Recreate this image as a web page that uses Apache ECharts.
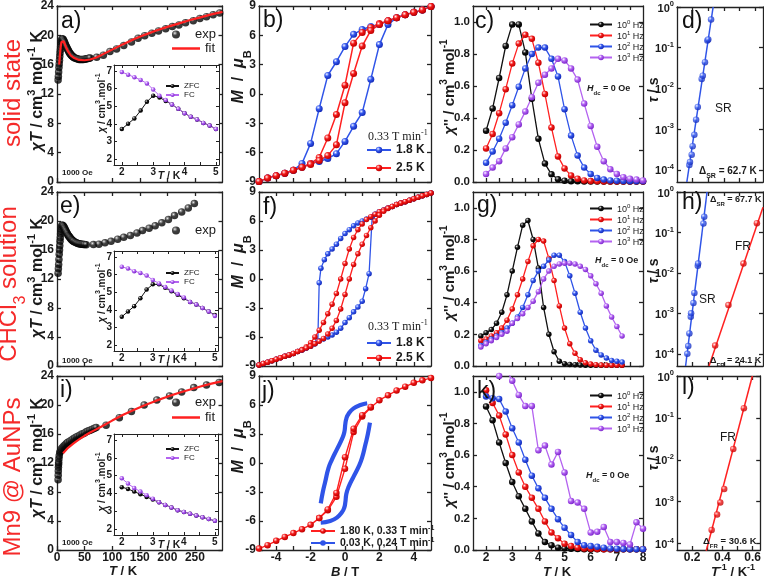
<!DOCTYPE html>
<html><head><meta charset="utf-8">
<script src="https://cdn.jsdelivr.net/npm/echarts@6/dist/echarts.min.js"></script>
<style>html,body{margin:0;padding:0;background:#fff}#c{width:764px;height:580px}</style>
</head><body><div id="c"></div>
<script>
// ---------------- DATA ----------------
// a) solid state chiT
const aT = [2,2.5,3,3.5,4,4.5,5,5.5,6,6.5,7,7.5,8,9,10,11,12,13,14,15,16,17,18,19,20,21,22,23,24,25,26,27,28,29,30,32,34,36,38,40,42,44,46,48,50,52,54,56,58,60,72,84,96,108,121,135,147,159,172,184,197,209,221,233,247,259,271,283,295];
const aChiT = [13.9,14.4,15.0,15.6,16.1,16.6,17.1,17.6,18.0,18.4,18.8,19.1,19.3,
  19.5,19.5,19.45,19.3,19.15,19.0,18.8,18.6,18.45,18.3,18.15,18.0,17.85,17.7,17.6,17.5,17.4,17.3,17.22,17.15,17.08,17.0,
  16.92,16.86,16.8,16.76,16.72,16.7,16.7,16.7,16.72,16.74,16.77,16.8,16.84,16.88,16.92,
  17.0,17.3,17.8,18.15,18.6,19.1,19.6,19.95,20.3,20.6,20.9,21.2,21.4,21.7,22.0,22.3,22.55,22.8,23.05];
const aFitT = [4,5,6,7,8,9,10,12,14,16,20,25,30,40,50,60,70,80,100,120,140,160,180,200,220,240,260,280,300];
const aFitChiT = [16.0,17.0,17.9,18.6,19.1,19.35,19.4,19.2,18.85,18.45,17.8,17.25,16.95,16.65,16.6,16.7,16.95,17.3,18.05,18.8,19.5,20.1,20.65,21.15,21.6,22.05,22.45,22.85,23.2];
// e) CHCl3 solution chiT
const eT = [2,2.5,3,3.5,4,4.5,5,5.5,6,6.5,7,7.5,8,9,10,11,12,13,14,15,16,17,18,19,20,21,22,23,24,25,26,27,28,29,30,32,34,36,38,40,42,44,46,48,50,53,66,76,87,98,110,121,133,145,155,167,178,190,202,213,226,238,249];
const eChiT = [12.8,13.4,14.0,14.7,15.4,16.0,16.6,17.2,17.7,18.2,18.6,18.9,19.2,
  19.4,19.4,19.35,19.25,19.1,18.95,18.8,18.65,18.5,18.35,18.2,18.05,17.95,17.85,17.75,17.65,17.55,17.45,17.4,17.32,17.25,17.2,
  17.1,17.02,16.95,16.9,16.86,16.83,16.8,16.78,16.76,16.75,16.74,
  16.75,16.8,17.0,17.2,17.5,17.75,18.0,18.35,18.7,19.0,19.35,19.75,20.2,20.75,21.25,21.8,22.4];
// i) Mn9@AuNPs chiT
const iT = [2,2.2,2.4,2.6,2.8,3,3.5,4,5,6,7,8,10,12,14,16,18,20,23,26,29,32,35,38,41,44,47,50,53,56,59,62,65,68,71,89,113,135,158,181,204,226,248,271,294];
const iChiT = [9.7,10.3,10.9,11.4,11.8,12.1,12.6,13.0,13.4,13.6,13.8,13.95,14.15,14.3,14.45,14.6,14.75,14.85,
  15.0,15.15,15.3,15.45,15.6,15.7,15.8,15.95,16.05,16.15,16.3,16.4,16.5,16.6,16.7,16.8,16.9,
  17.2,18.25,19.1,20.0,20.7,21.25,21.8,22.4,22.75,23.1];
const iFitT = [11,20,30,40,50,60,70,80,100,120,140,160,180,200,220,240,260,280,300];
const iFitChiT = [13.35,14.1,14.7,15.25,15.75,16.2,16.6,17.0,17.85,18.65,19.35,20.0,20.6,21.15,21.65,22.1,22.55,22.95,23.3];
// insets: ZFC / FC
const insT = [2,2.2,2.4,2.6,2.8,3.0,3.2,3.4,3.6,3.8,4.0,4.2,4.4,4.6,4.8,5.0];
const aZFC = [3.7,4.0,4.3,4.75,5.25,5.6,5.5,5.3,5.1,4.85,4.6,4.4,4.25,4.05,3.9,3.7];
const aFC  = [6.95,6.8,6.65,6.5,6.3,5.95,5.6,5.35,5.1,4.85,4.6,4.4,4.25,4.05,3.9,3.7];
const eZFC = [3.6,3.9,4.2,4.65,5.15,5.45,5.45,5.25,5.05,4.85,4.65,4.45,4.3,4.1,3.9,3.7];
const eFC  = [6.45,6.35,6.2,6.1,5.95,5.7,5.5,5.3,5.1,4.9,4.7,4.45,4.3,4.1,3.9,3.65];
const iZFC = [4.35,4.25,4.1,3.95,3.8,3.65,3.5,3.35,3.2,3.05,2.95,2.85,2.75,2.65,2.55,2.45];
const iFC  = [4.85,4.55,4.3,4.1,3.9,3.7,3.5,3.35,3.2,3.05,2.95,2.85,2.75,2.65,2.55,2.45];
// b) hysteresis solid state
const bDownB = [5,4.5,4,3.5,3,2.5,2,1.5,1,0.5,0,-0.5,-1,-1.5,-2,-2.5,-3,-3.5,-4,-4.5,-5];
const bUpB = [-5,-4.5,-4,-3.5,-3,-2.5,-2,-1.5,-1,-0.5,0,0.5,1,1.5,2,2.5,3,3.5,4,4.5,5];
const b18Down = [8.95,8.6,8.35,8.1,7.8,7.5,7.1,6.9,6.6,6.1,4.85,3.3,1.9,-1.5,-5.05,-7.1,-7.8,-8.1,-8.35,-8.6,-8.95];
const b18Up = [-8.95,-8.6,-8.35,-8.1,-7.8,-7.5,-7.1,-6.9,-6.6,-6.1,-4.85,-3.3,-1.9,1.5,5.05,7.1,7.8,8.1,8.35,8.6,8.95];
const b25Down = [8.95,8.6,8.35,8.1,7.8,7.5,7.2,6.8,6.3,5.2,0.9,-2.1,-4.5,-6.5,-7.1,-7.5,-7.8,-8.1,-8.35,-8.6,-8.95];
const b25Up = [-8.95,-8.6,-8.35,-8.1,-7.8,-7.5,-7.2,-6.8,-6.3,-5.2,-0.9,2.1,4.9,6.5,7.1,7.5,7.8,8.1,8.35,8.6,8.95];
// f) hysteresis CHCl3 solution
const fBlueDownB = [5,4.75,4.5,4.25,4,3.75,3.5,3.25,3,2.75,2.5,2.25,2,1.75,1.5,1.25,1,0.75,0.5,0.25,0,-0.25,-0.5,-0.75,-1,-1.2,-1.4,-1.5,-1.58,-1.75,-2,-2.25,-2.5,-2.75,-3,-3.25,-3.5,-3.75,-4,-4.25,-4.5,-4.75,-5];
const fBlueDownM = [8.9,8.75,8.6,8.45,8.3,8.15,8.0,7.85,7.7,7.5,7.35,7.15,6.95,6.7,6.4,6.2,6.0,5.8,5.5,5.1,4.7,4.2,3.6,3.1,2.6,2.0,1.1,-0.4,-6.4,-6.7,-6.95,-7.15,-7.35,-7.5,-7.7,-7.85,-8.0,-8.15,-8.3,-8.45,-8.6,-8.75,-8.9];
const fBlueUpB = [-5,-4.75,-4.5,-4.25,-4,-3.75,-3.5,-3.25,-3,-2.75,-2.5,-2.25,-2,-1.75,-1.5,-1.25,-1,-0.75,-0.5,-0.25,0,0.25,0.5,0.75,1,1.2,1.4,1.58,1.75,2,2.25,2.5,2.75,3,3.25,3.5,3.75,4,4.25,4.5,4.75,5];
const fBlueUpM = [-8.9,-8.75,-8.6,-8.45,-8.3,-8.15,-8.0,-7.85,-7.7,-7.5,-7.35,-7.15,-6.95,-6.7,-6.4,-6.2,-6.0,-5.8,-5.5,-5.1,-4.5,-4.0,-3.4,-2.9,-2.3,-1.0,0.55,6.4,6.7,6.95,7.15,7.35,7.5,7.7,7.85,8.0,8.15,8.3,8.45,8.6,8.75,8.9];
const fRedDownB = [5,4.75,4.5,4.25,4,3.75,3.5,3.25,3,2.75,2.5,2.25,2,1.75,1.5,1.25,1,0.75,0.5,0.25,0,-0.25,-0.5,-0.75,-1,-1.25,-1.5,-1.75,-2,-2.25,-2.5,-2.75,-3,-3.25,-3.5,-3.75,-4,-4.25,-4.5,-4.75,-5];
const fRedDownM = [8.9,8.75,8.6,8.45,8.3,8.15,8.0,7.85,7.7,7.5,7.35,7.15,6.95,6.7,6.45,6.15,5.7,5.1,4.3,3.1,1.6,0.0,-1.5,-2.6,-3.6,-4.5,-5.3,-6.0,-6.6,-7.0,-7.3,-7.5,-7.7,-7.85,-8.0,-8.15,-8.3,-8.45,-8.6,-8.75,-8.9];
const fRedUpB = [-5,-4.75,-4.5,-4.25,-4,-3.75,-3.5,-3.25,-3,-2.75,-2.5,-2.25,-2,-1.75,-1.5,-1.25,-1,-0.75,-0.5,-0.25,0,0.25,0.5,0.75,1,1.25,1.5,1.75,2,2.25,2.5,2.75,3,3.25,3.5,3.75,4,4.25,4.5,4.75,5];
const fRedUpM = [-8.9,-8.75,-8.6,-8.45,-8.3,-8.15,-8.0,-7.85,-7.7,-7.5,-7.35,-7.15,-6.95,-6.7,-6.45,-6.15,-5.7,-5.1,-4.3,-3.1,-1.6,0.0,1.5,2.6,3.6,4.5,5.3,6.0,6.6,7.0,7.3,7.5,7.7,7.85,8.0,8.15,8.3,8.45,8.6,8.75,8.9];
// j) hysteresis Mn9@AuNPs
const jUpB = [-5,-4.5,-4,-3.5,-3,-2.5,-2,-1.5,-1,-0.5,0,0.5,1,1.5,2,2.5,3,3.5,4,4.5,5];
const jUpM = [-8.85,-8.5,-8.05,-7.65,-7.25,-6.85,-6.4,-5.7,-4.9,-3.5,-0.6,3.2,4.8,5.75,6.5,7.0,7.5,7.9,8.3,8.55,8.8];
const jDownB = [1.5,1,0.5,0,-0.5,-1,-1.5];
const jDownM = [5.8,4.95,3.55,0.6,-3.1,-4.8,-5.7];
const jBlue1B = [1.29,0.9,0.5,0.21,0.08,0.02,-0.04,-0.18,-0.47,-0.76,-0.96,-1.15,-1.29,-1.41];
const jBlue1M = [6.18,6.0,5.65,5.1,4.6,4.06,3.18,2.47,1.41,0.35,-0.53,-1.94,-3.0,-4.17];
const jBlue2B = [-1.41,-0.86,-0.47,-0.18,-0.04,0.02,0.08,0.21,0.5,0.8,0.99,1.19,1.33,1.45];
const jBlue2M = [-6.18,-6.0,-5.65,-5.1,-4.6,-4.06,-3.18,-2.47,-1.41,-0.35,0.53,1.94,3.0,4.17];
// c) chi'' solid state (10^0..10^3 Hz)
const cT = [2,2.25,2.5,2.75,3,3.25,3.5,3.75,4,4.25,4.5,4.75,5,5.25,5.5,5.75,6,6.25,6.5,6.75,7,7.25,7.5,7.75,8];
const c0 = [0.32,0.46,0.65,0.85,0.985,0.985,0.81,0.52,0.27,0.115,0.048,0.017,0.008,0.005,0.004,0.003,0.003,0.003,0.003,0.003,0.003,0.003,0.003,0.003,0.003];
const c1 = [0.21,0.30,0.43,0.58,0.74,0.865,0.92,0.895,0.745,0.55,0.34,0.16,0.085,0.04,0.02,0.01,0.006,0.004,0.003,0.003,0.003,0.003,0.003,0.003,0.003];
const c2 = [0.12,0.19,0.27,0.37,0.48,0.595,0.71,0.80,0.84,0.84,0.77,0.66,0.455,0.29,0.165,0.09,0.05,0.025,0.015,0.01,0.008,0.006,0.005,0.005,0.005];
const c3 = [0.05,0.09,0.13,0.21,0.28,0.36,0.44,0.53,0.62,0.67,0.71,0.77,0.76,0.71,0.64,0.49,0.35,0.22,0.13,0.08,0.05,0.03,0.02,0.015,0.01];
// g) chi'' CHCl3 solution
const gT = [1.8,2.0,2.2,2.4,2.6,2.8,3.0,3.2,3.4,3.6,3.8,4.0,4.2,4.4,4.6,4.8,5.0,5.2,5.4,5.6,5.8,6.0,6.2,6.4,6.6,6.8,7.0,7.2];
const g0 = [0.19,0.21,0.23,0.27,0.34,0.45,0.60,0.75,0.89,0.92,0.80,0.62,0.37,0.20,0.09,0.03,0.015,0.01,0.008,0.006,0.005,0.005,0.005,0.005,0.005,0.005,0.005,0.005];
const g1 = [0.16,0.17,0.19,0.21,0.24,0.29,0.36,0.45,0.55,0.66,0.76,0.80,0.79,0.68,0.54,0.38,0.24,0.14,0.08,0.04,0.02,0.012,0.008,0.006,0.005,0.005,0.005,0.005];
const g2 = [0.13,0.15,0.17,0.19,0.21,0.24,0.27,0.31,0.37,0.45,0.54,0.60,0.63,0.67,0.70,0.70,0.66,0.57,0.46,0.34,0.24,0.16,0.10,0.07,0.05,0.035,0.03,0.025];
const g3 = [0.12,0.14,0.16,0.18,0.20,0.22,0.27,0.30,0.33,0.37,0.41,0.47,0.55,0.60,0.63,0.645,0.65,0.65,0.645,0.63,0.61,0.57,0.52,0.46,0.38,0.31,0.25,0.19];
// k) chi'' Mn9@AuNPs
const kT = [2,2.25,2.5,2.75,3,3.25,3.5,3.75,4,4.25,4.5,4.75,5,5.25,5.5,5.75,6,6.25,6.5,6.75,7,7.25,7.5,7.75,8];
const k0 = [0.907,0.82,0.68,0.55,0.43,0.34,0.26,0.18,0.105,0.05,0.03,0.015,0.01,0.008,0.006,0.005,0.005,0.005,0.005,0.005,0.005,0.005,0.005,0.005,0.005];
const k1 = [1.01,0.93,0.85,0.73,0.60,0.49,0.40,0.33,0.26,0.18,0.11,0.075,0.04,0.025,0.015,0.01,0.008,0.006,0.005,0.005,0.005,0.005,0.005,0.005,0.005];
const k2 = [0.97,0.96,0.955,0.875,0.77,0.68,0.57,0.47,0.39,0.33,0.26,0.195,0.14,0.095,0.05,0.03,0.025,0.02,0.015,0.01,0.008,0.006,0.005,0.005,0.005];
const k3 = [1.3,1.2,1.1,1.15,1.07,0.98,0.91,0.91,0.63,0.66,0.54,0.62,0.49,0.31,0.30,0.26,0.11,0.115,0.145,0.05,0.05,0.045,0.035,0.175,0.135];
// d) Arrhenius solid state (SR)
const dX = [0.179,0.183,0.194,0.2,0.211,0.222,0.233,0.258,0.265,0.279,0.294,0.3,0.318];
const dTau = [1.3e-4,1.55e-4,2.35e-4,3.8e-4,7.2e-4,1.7e-3,3.5e-3,1.7e-2,2.05e-2,4.4e-2,0.15,0.16,0.49];
const dFitX = [0.163,0.331];
const dFitTau = [5e-5,1.0];
// h) Arrhenius CHCl3 (SR + FR)
const hSRX = [0.166,0.172,0.179,0.188,0.19,0.205,0.211,0.233,0.235,0.269,0.274];
const hSRTau = [1.0e-4,1.55e-4,3.2e-4,8.3e-4,1.0e-3,1.8e-3,3.2e-3,1.5e-2,1.7e-2,0.166,0.245];
const hSRFitX = [0.155,0.292];
const hSRFitTau = [5e-5,1.0];
const hFRX = [0.344,0.429,0.525,0.611];
const hFRTau = [1.6e-4,1.6e-3,1.7e-2,0.17];
const hFRFitX = [0.305,0.65];
const hFRFitTau = [5e-5,0.42];
// l) Arrhenius Mn9@AuNPs (FR)
const lX = [0.329,0.365,0.386,0.412,0.472,0.542];
const lTau = [2.1e-4,4.9e-4,9.5e-4,2.0e-3,1.8e-2,0.17];
const lFitX = [0.284,0.598];
const lFitTau = [5e-5,1.0];
// tick values / labels
const tempTicks = [0,50,100,150,200,250];
const chiTTicks = [0,4,8,12,16,20,24];
const insXLabels = [2,3,4,5];
const insYLabels = [2,3,4,5,6,7];
const fieldTicks = [-4,-3,-2,-1,0,1,2,3,4];
const fieldLabels = [-4,-2,0,2,4];
const acTicks = [2,2.5,3,3.5,4,4.5,5,5.5,6,6.5,7,7.5];
const acLabels = [2,3,4,5,6,7,8];
const chiYLabels = [0,0.2,0.4,0.6,0.8,1.0];
const invTTicks = [0.2,0.3,0.4,0.5,0.6];
const invTLabels = [0.2,0.4,0.6];
const tauLabels = [1e-4,1e-3,1e-2,1e-1,1];

// ---------------- STYLE ----------------
const F = '"Liberation Sans", Arial, Helvetica, sans-serif';
const FSERIF = '"Liberation Serif", "Times New Roman", serif';
const INK = '#1a1a1a';
const COL = {k:'#111111', r:'#ff2020', b:'#2f54e8', v:'#b463f0'};
function sph(c0,c1,c2){return {type:'radial',x:0.36,y:0.33,r:0.68,colorStops:[{offset:0,color:'#ffffff'},{offset:0.16,color:c0},{offset:0.45,color:c1},{offset:1,color:c2}]};}
const SPH = {k:sph('#8a8a8a','#101010','#000000'), r:sph('#ff9a9a','#f01818','#c00000'), b:sph('#a6b8ff','#3356ea','#1229b8'), v:sph('#e0c0ff','#b060f0','#7d28cc')};

function rs(fs,o){const s=Object.assign({fontSize:fs,fontFamily:F,fontWeight:'bold',color:INK},o||{});s.fill=s.color;return s;}
function supSet(fs,o){const L=Math.round(fs*1.2);o=o||{};return {
  n:rs(fs,Object.assign({lineHeight:L,verticalAlign:'bottom'},o)),
  i:rs(fs,Object.assign({lineHeight:L,verticalAlign:'bottom',fontStyle:'italic'},o)),
  s:rs(Math.round(fs*0.66),Object.assign({lineHeight:L,verticalAlign:'top'},o))};}
function subSet(fs,o){const L=Math.round(fs*1.35);o=o||{};return {
  n:rs(fs,Object.assign({lineHeight:L,verticalAlign:'top'},o)),
  i:rs(fs,Object.assign({lineHeight:L,verticalAlign:'top',fontStyle:'italic'},o)),
  b:rs(Math.round(fs*0.66),Object.assign({lineHeight:L,verticalAlign:'bottom'},o))};}

const grids=[], xAxis=[], yAxis=[], series=[], legend=[], graphic=[];

function mkAxis(gi,pos,c,main){
  const lw=c.lw||1.3;
  const ax={
    type:c.type||'value', gridIndex:gi, position:pos, min:c.min, max:c.max,
    axisLine:{show:true,onZero:false,lineStyle:{color:'#222',width:lw}},
    axisTick:{show:true,inside:true,length:c.tl||4,lineStyle:{color:'#222',width:lw}},
    minorTick:{show:false}, splitLine:{show:false},
    axisLabel:{show:!!(main && c.labels), fontFamily:F, fontWeight:'bold', fontSize:c.fs||12, color:INK, margin:c.margin||3, hideOverlap:false}
  };
  if(c.type==='log') ax.logBase=10;
  if(c.interval!==undefined) ax.interval=c.interval;
  if(c.ticks) ax.axisTick.customValues=c.ticks;
  if(Array.isArray(c.labels)) ax.axisLabel.customValues=c.labels;
  if(c.fmt) ax.axisLabel.formatter=c.fmt;
  if(c.rich) ax.axisLabel.rich=c.rich;
  if(c.z!==undefined) ax.z=c.z;
  return ax;
}
function panel(r,xc,yc,g){
  const gi=grids.length;
  grids.push(Object.assign({left:r[0],top:r[1],width:r[2],height:r[3],containLabel:false},g||{}));
  const xi=xAxis.length, yi=yAxis.length;
  xAxis.push(mkAxis(gi,'bottom',xc,true)); xAxis.push(mkAxis(gi,'top',xc,false));
  yAxis.push(mkAxis(gi,'left',yc,true)); yAxis.push(mkAxis(gi,'right',yc,false));
  return {xi,yi};
}
function pts(xs,ys){return xs.map((x,i)=>[x,ys[i]]);}
function lineS(name,p,xs,ys,c,o){o=o||{};
  return {type:'line',name,xAxisIndex:p.xi,yAxisIndex:p.yi,data:pts(xs,ys),
    symbol:o.noSym?'none':'circle',symbolSize:o.ss||6.5,showSymbol:!o.noSym,smooth:!!o.smooth,
    lineStyle:{color:COL[c],width:o.lw||1.4},itemStyle:{color:o.noSym?COL[c]:SPH[c]},
    emphasis:{disabled:true},silent:true,clip:true,z:o.z||2};}
function scatS(name,p,xs,ys,c,o){o=o||{};
  return {type:'scatter',name,xAxisIndex:p.xi,yAxisIndex:p.yi,data:pts(xs,ys),symbol:'circle',symbolSize:o.ss||7.5,
    itemStyle:{color:SPH[c]},emphasis:{disabled:true},silent:true,clip:true,z:o.z||2};}
function txt(x,y,text,o){o=o||{};
  graphic.push({type:'text',x,y,rotation:o.rot||0,z:100,silent:true,style:{
    text, fill:o.color||INK, fontSize:o.fs||12, fontFamily:o.ff||F, fontWeight:o.fw||'normal',
    align:o.align||'left', verticalAlign:'middle', rich:o.rich}});}
function logFmt(v){const e=Math.round(Math.log10(v));return '{n|10}{s|'+(e<0?'-'+(-e):e)+'}';}

// ---------------- LAYOUT ----------------
const C1=[57,165.5], C2=[259,172], C3=[473,170], C4=[677,86];
const R1=[6,176], R2=[192,174], R3=[376,174];
function rect(c,r){return [c[0],r[0],c[1],r[1]];}
const rows=[R1,R2,R3];

// column 1: chiT
const chiTData=[[aT,aChiT,aFitT,aFitChiT],[eT,eChiT,null,null],[iT,iChiT,iFitT,iFitChiT]];
const insData=[[aZFC,aFC],[eZFC,eFC],[iZFC,iFC]];
const insRects=[[114,65,105,100],[114,251,104,100],[114,434,104,101]];
for(let r=0;r<3;r++){
  const p=panel(rect(C1,rows[r]),{min:0,max:300,ticks:tempTicks,labels:r===2?tempTicks:false,margin:2},{min:0,max:24,ticks:chiTTicks,labels:chiTTicks});
  const d=chiTData[r];
  series.push(scatS('exp',p,d[0],d[1],'k'));
  if(d[2]) series.push(lineS('fit',p,d[2],d[3],'r',{noSym:true,lw:2.2,z:3}));
  const q=panel(insRects[r],{min:1.75,max:5.1,ticks:[2,2.5,3,3.5,4,4.5,5],labels:insXLabels,fs:10,margin:2,tl:3,lw:1,z:4},
    {min:1.65,max:7.35,ticks:insYLabels,labels:insYLabels,fs:10,margin:2,tl:3,lw:1,z:4},{show:true,backgroundColor:'#ffffff',borderWidth:0,z:3});
  series.push(lineS('ZFC',q,insT,insData[r][0],'k',{ss:4.5,lw:1,z:5}));
  series.push(lineS('FC',q,insT,insData[r][1],'v',{ss:4.5,lw:1,z:5}));
}
// column 2: M vs B
{
  const p=panel(rect(C2,R1),{min:-5,max:5,ticks:fieldTicks,labels:false},{min:-9,max:9,interval:3,labels:true});
  series.push(lineS('1.8 K',p,bDownB.concat(bUpB),b18Down.concat(b18Up),'b',{ss:7,lw:1.5}));
  series.push(lineS('2.5 K',p,bDownB.concat(bUpB),b25Down.concat(b25Up),'r',{ss:7,lw:1.5}));
  const q=panel(rect(C2,R2),{min:-5,max:5,ticks:fieldTicks,labels:false},{min:-9,max:9,interval:3,labels:true});
  series.push(lineS('1.8 K',q,fBlueDownB.concat(fBlueUpB),fBlueDownM.concat(fBlueUpM),'b',{ss:5.5,lw:1.3}));
  series.push(lineS('2.5 K',q,fRedDownB.concat(fRedUpB),fRedDownM.concat(fRedUpM),'r',{ss:5.5,lw:1.3}));
  const s=panel(rect(C2,R3),{min:-5,max:5,ticks:fieldTicks,labels:fieldLabels,margin:2},{min:-9,max:9,interval:3,labels:true});
  series.push(lineS('jb',s,jBlue1B,jBlue1M,'b',{noSym:true,lw:4.2,smooth:true}));
  series.push(lineS('jb',s,jBlue2B,jBlue2M,'b',{noSym:true,lw:4.2,smooth:true}));
  series.push(lineS('jr',s,jUpB,jUpM,'r',{ss:6.5,lw:1.4,z:3}));
  series.push(lineS('jr',s,jDownB,jDownM,'r',{ss:6.5,lw:1.4,z:3}));
}
// column 3: chi''
const acData=[[cT,[c0,c1,c2,c3],6.5],[gT,[g0,g1,g2,g3],5.5],[kT,[k0,k1,k2,k3],6.5]];
for(let r=0;r<3;r++){
  const p=panel(rect(C3,rows[r]),{min:1.5,max:8,ticks:acTicks,labels:r===2?acLabels:false,margin:2},
    {min:0,max:1.1,ticks:chiYLabels,labels:chiYLabels,fmt:v=>v.toFixed(1),fs:11.5});
  const d=acData[r];
  ['k','r','b','v'].forEach((c,i)=>series.push(lineS('f'+i,p,d[0],d[1][i],c,{ss:d[2],lw:1.3})));
}
// column 4: tau vs 1/T
const tauRich={n:rs(11,{lineHeight:14,verticalAlign:'bottom'}),s:rs(7.5,{lineHeight:14,verticalAlign:'top'})};
function tauPanel(r,ymin,lab){
  return panel(rect(C4,r),{min:0.1,max:0.65,ticks:invTTicks,labels:lab?invTLabels:false,fmt:v=>v.toFixed(1),margin:2},
    {type:'log',min:ymin,max:1,ticks:tauLabels,labels:tauLabels,fmt:logFmt,rich:tauRich,margin:3});
}
{
  const p=tauPanel(R1,5e-5,false);
  series.push(lineS('SRd',p,dFitX,dFitTau,'b',{noSym:true,lw:1.5}));
  series.push(scatS('SRdp',p,dX,dTau,'b',{ss:6.5,z:3}));
  const q=tauPanel(R2,5e-5,false);
  series.push(lineS('SRh',q,hSRFitX,hSRFitTau,'b',{noSym:true,lw:1.5}));
  series.push(scatS('SRhp',q,hSRX,hSRTau,'b',{ss:6.5,z:3}));
  series.push(lineS('FRh',q,hFRFitX,hFRFitTau,'r',{noSym:true,lw:1.5}));
  series.push(scatS('FRhp',q,hFRX,hFRTau,'r',{ss:6.5,z:3}));
  const s=tauPanel(R3,7e-5,true);
  series.push(lineS('FRl',s,lFitX,lFitTau,'r',{noSym:true,lw:1.5}));
  series.push(scatS('FRlp',s,lX,lTau,'r',{ss:6.5,z:3}));
}

// ---------------- LEGENDS ----------------
const legBase={orient:'vertical',selectedMode:false,padding:0,inactiveColor:'#999'};
function leg(o){legend.push(Object.assign({},legBase,o));}
const expText={fontSize:13,fontFamily:F,color:INK};
[28,224,396].forEach(t=>leg({left:172,top:t,itemWidth:28,itemHeight:8,data:[{name:'exp',icon:'circle'}],textStyle:expText}));
[42,411].forEach(t=>leg({left:172,top:t,itemWidth:28,itemHeight:2.5,data:[{name:'fit',icon:'rect'}],textStyle:expText}));
[82,269,445].forEach(t=>leg({left:165,top:t,itemGap:1,itemWidth:13,itemHeight:5,data:['ZFC','FC'],textStyle:{fontSize:8,fontFamily:F,color:INK}}));
leg({left:366,top:144,itemGap:6,itemWidth:24,itemHeight:8,data:['1.8 K','2.5 K'],textStyle:{fontSize:12,fontWeight:'bold',fontFamily:F,color:INK}});
leg({left:366,top:337,itemGap:3,itemWidth:24,itemHeight:8,data:['1.8 K','2.5 K'],textStyle:{fontSize:12,fontWeight:'bold',fontFamily:F,color:INK}});
const hzRich={n:rs(9,{fontWeight:'normal',lineHeight:11,verticalAlign:'bottom'}),s:rs(6,{fontWeight:'normal',lineHeight:11,verticalAlign:'top'})};
[19,203,390].forEach(t=>leg({left:589,top:t,itemGap:0,itemWidth:22,itemHeight:7,data:['f0','f1','f2','f3'],
  formatter:n=>'{n|10}{s|'+n[1]+'}{n| Hz}',textStyle:{fontSize:9,fontFamily:F,color:INK,rich:hzRich}}));
const jRich={n:rs(10.5,{lineHeight:12,verticalAlign:'bottom'}),s:rs(7,{lineHeight:12,verticalAlign:'top'})};
leg({left:310,top:525,itemGap:0,itemWidth:24,itemHeight:7,data:['jr','jb'],
  formatter:n=>n==='jr'?'{n|1.80 K, 0.33 T min}{s|-1}':'{n|0.03 K, 0,24 T min}{s|-1}',textStyle:{fontFamily:F,color:INK,rich:jRich}});

// ---------------- TEXTS ----------------
const RED='#f52a2a';
txt(13,93,'solid state',{rot:Math.PI/2,fs:24,color:RED,align:'center'});
txt(13,284,'{n|CHCl}{b|3}{n| solution}',{rot:Math.PI/2,align:'center',color:RED,rich:subSet(24,{fontWeight:'normal',color:RED})});
txt(13,477,'Mn9 @ AuNPs',{rot:Math.PI/2,fs:24,color:RED,align:'center'});
[['a)',61,22],['b)',263,21],['c)',475,22],['d)',682,22],['e)',60,207],['f)',263,208],['g)',477,206],['h)',682,203],
 ['i)',60,391],['j)',262,392],['k)',477,392],['l)',682,388]].forEach(t=>txt(t[1],t[2],t[0],{fs:23,color:'#111'}));
// y titles
[91,278,458].forEach(y=>txt(36,y,'{i|χT}{n| / cm}{s|3}{n| mol}{s|-1}{n| K}',{rot:Math.PI/2,align:'center',rich:supSet(16)}));
[77,262,447].forEach(y=>txt(242,y,'{i|M}{n|  /  }{i|μ}{b|B}',{rot:Math.PI/2,align:'center',rich:subSet(16)}));
[87,273,460].forEach(y=>txt(448,y,"{i|χ}{n|'' / cm}{s|3}{n| mol}{s|-1}",{rot:Math.PI/2,align:'center',rich:supSet(15)}));
[90,271,458].forEach(y=>txt(653,y,'{i|τ}{n| / s}',{rot:Math.PI/2,align:'center',rich:supSet(14)}));
// x titles
txt(123,570,'{i|T}{n| / K}',{align:'center',rich:supSet(13)});
txt(345,571,'{i|B}{n| / T}',{align:'center',rich:supSet(13)});
txt(557,571,'{i|T}{n| / K}',{align:'center',rich:supSet(13)});
txt(733,571,'{i|T}{s|-1}{n| / K}{s|-1}',{align:'center',rich:supSet(13)});
// inset titles
[103,293,482].forEach(y=>txt(101,y,'{i|χ}{n| / cm}{s|3}{n|.mol}{s|-1}',{rot:Math.PI/2,align:'center',rich:supSet(10)}));
[175,359,544].forEach(y=>txt(169,y,'{i|T}{n| / K}',{align:'center',rich:supSet(10.5)}));
// annotations
[173,361,543].forEach(y=>txt(62,y,'1000 Oe',{fs:8,fw:'bold'}));
[[587,90],[595,262],[586,477]].forEach(p=>txt(p[0],p[1],'{i|H}{b|dc}{n| = 0 Oe}',{rich:subSet(9)}));
const serifSup=supSet(12,{fontFamily:FSERIF,fontWeight:'normal'});
txt(368,136,'{n|0.33 T min}{s|-1}',{rich:serifSup});
txt(368,326,'{n|0.33 T min}{s|-1}',{rich:serifSup});
txt(715,109,'SR',{fs:12});
txt(699,173,'{n|Δ}{b|SR}{n| = 62.7 K}',{rich:subSet(10)});
txt(710,201,'{n|Δ}{b|SR}{n| = 67.7 K}',{rich:subSet(9)});
txt(735,247,'FR',{fs:12});
txt(699,300,'SR',{fs:12});
txt(710,362,'{n|Δ}{b|FR}{n| = 24.1 K}',{rich:subSet(9)});
txt(720,438,'FR',{fs:12});
txt(703,543,'{n|Δ}{b|FR}{n| = 30.6 K}',{rich:subSet(9.5)});

const chart=echarts.init(document.getElementById('c'),null,{renderer:'canvas'});
chart.setOption({animation:false,backgroundColor:'#ffffff',textStyle:{fontFamily:F},
  grid:grids,xAxis,yAxis,series,legend,graphic:{elements:graphic}});
</script></body></html>
